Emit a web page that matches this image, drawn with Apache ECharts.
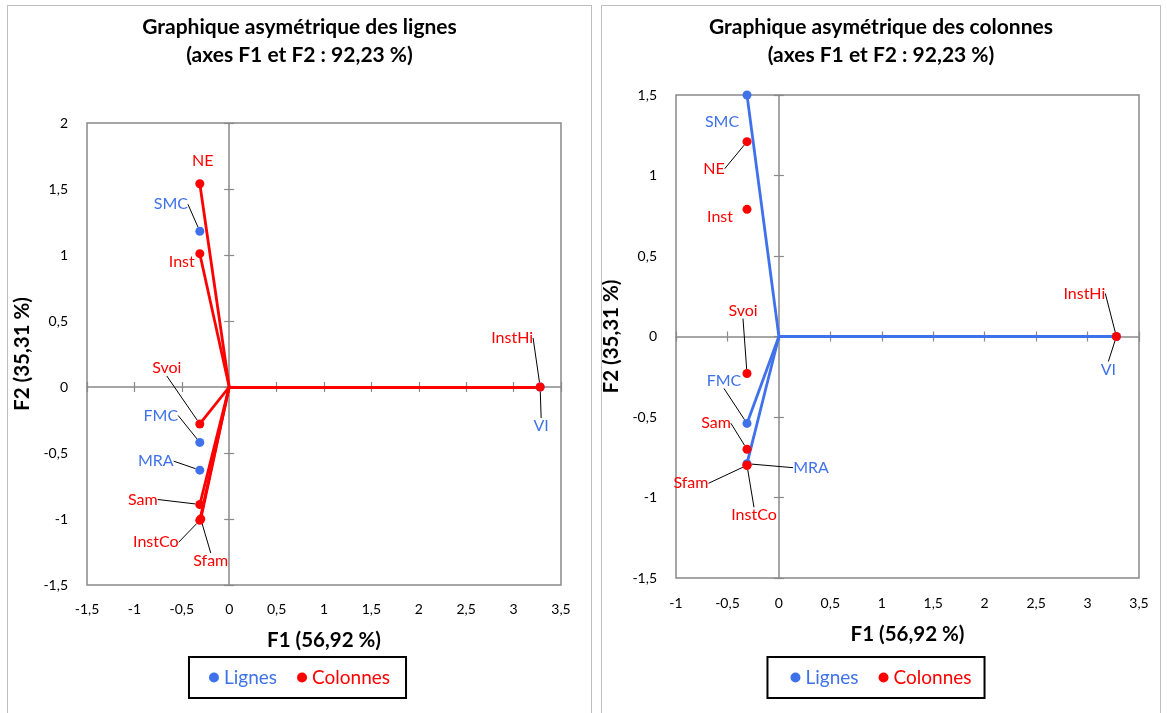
<!DOCTYPE html>
<html><head><meta charset="utf-8">
<script src="https://cdn.jsdelivr.net/npm/echarts@6/dist/echarts.min.js"></script>
<style>
body{margin:0;background:#fff;width:1167px;height:713px;overflow:hidden;position:relative;}
.panel{position:absolute;border:1px solid #bfbfbf;box-sizing:border-box;}
#p1{left:7px;top:5px;width:585px;height:712px;}
#p2{left:601px;top:5px;width:560px;height:712px;}
.chart{width:100%;height:100%;}
</style></head><body>
<div id="p1" class="panel"><div id="c1" class="chart"></div></div>
<div id="p2" class="panel"><div id="c2" class="chart"></div></div>
<script>
// ---------- DATA ----------
// Left chart: Graphique asymétrique des lignes
const L_rowNames = ['SMC', 'FMC', 'MRA', 'VI'];
const L_rowF1 = [-0.31, -0.31, -0.31, 3.28];
const L_rowF2 = [1.18, -0.42, -0.63, 0];
const L_colNames = ['NE', 'Inst', 'Svoi', 'Sam', 'InstCo', 'Sfam', 'InstHi'];
const L_colF1 = [-0.31, -0.31, -0.31, -0.31, -0.31, -0.30, 3.28];
const L_colF2 = [1.54, 1.01, -0.28, -0.89, -1.01, -1.00, 0];

// Right chart: Graphique asymétrique des colonnes
const R_rowNames = ['SMC', 'FMC', 'MRA', 'VI'];
const R_rowF1 = [-0.31, -0.31, -0.31, 3.28];
const R_rowF2 = [1.50, -0.54, -0.79, 0];
const R_colNames = ['NE', 'Inst', 'Svoi', 'Sam', 'InstCo', 'Sfam', 'InstHi'];
const R_colF1 = [-0.31, -0.31, -0.31, -0.31, -0.31, -0.31, 3.28];
const R_colF2 = [1.21, 0.79, -0.23, -0.70, -0.80, -0.80, 0];

const titleL = 'Graphique asymétrique des lignes\n(axes F1 et F2 : 92,23 %)';
const titleR = 'Graphique asymétrique des colonnes\n(axes F1 et F2 : 92,23 %)';
const xName = 'F1 (56,92 %)';
const yName = 'F2 (35,31 %)';
const legendNames = ['Lignes', 'Colonnes'];

// ---------- STYLE ----------
const BLUE = '#3f72ea';
const RED = '#ff0000';
const FONT = 'Lato';
// label offsets [dx, dy, leaderLine]
const L_offs = {
  NE: [3, -23, false], SMC: [-29, -27, true], Inst: [-18, 8, false], Svoi: [-33, -56, true],
  FMC: [-39, -27, true], MRA: [-44, -9, true], Sam: [-57, -5, true], InstCo: [-44, 22, true],
  Sfam: [10, 42, true], InstHi: [-28, -49, true], VI: [1, 39, true]
};
const R_offs = {
  SMC: [-25, 27, false], NE: [-33, 27, true], Inst: [-27, 8, false], Svoi: [-4, -63, true],
  FMC: [-23, -43, true], Sam: [-31, -26, true], MRA: [64, 4, true], Sfam: [-56, 18, true],
  InstCo: [7, 50, true], InstHi: [-32, -43, true], VI: [-8, 33, true]
};

const fmt = v => String(v).replace('.', ',');
const axisGray = '#898989';

function axes(dim, min, max, nameGap, labelMargin) {
  const base = { type: 'value', min: min, max: max, interval: 0.5, splitLine: { show: false } };
  const labelAxis = Object.assign({}, base, {
    position: dim === 'x' ? 'bottom' : 'left',
    axisLine: { show: false, onZero: false },
    axisTick: { show: false },
    axisLabel: { formatter: fmt, color: '#000', fontSize: 14, fontFamily: FONT, margin: labelMargin },
    name: dim === 'x' ? xName : yName,
    nameLocation: 'middle', nameGap: nameGap,
    nameTextStyle: { color: '#000', fontSize: 20.5, fontWeight: 'bold', fontFamily: FONT }
  });
  const lineAxis = Object.assign({}, base, {
    axisLine: { show: true, onZero: true, onZeroAxisIndex: 0, lineStyle: { color: axisGray, width: 1.5 } },
    axisTick: { show: true, inside: false, length: 5, lineStyle: { color: axisGray, width: 1.2 } },
    axisLabel: { show: false }
  });
  const tickAxis = Object.assign({}, base, {
    axisLine: { show: false, onZero: true, onZeroAxisIndex: 0 },
    axisTick: { show: true, inside: true, length: 5, lineStyle: { color: axisGray, width: 1.2 } },
    axisLabel: { show: false }
  });
  return [labelAxis, lineAxis, tickAxis];
}

function scatter(name, color, names, f1, f2, offs) {
  return {
    type: 'scatter', name: name, symbolSize: 9, z: 5,
    itemStyle: { color: color, opacity: 1 },
    data: names.map((n, i) => ({ name: n, value: [f1[i], f2[i]], labelLine: { show: offs[n][2] } })),
    label: {
      show: true, position: 'inside', formatter: '{b}', color: color, fontSize: 16,
      fontFamily: FONT, textBorderWidth: 0, align: 'center', verticalAlign: 'middle'
    },
    labelLine: { show: true, lineStyle: { color: '#000', width: 1 } },
    labelLayout: p => { const o = offs[names[p.dataIndex]]; return { dx: o[0], dy: o[1] }; },
    emphasis: { disabled: true }
  };
}

function rays(color, f1, f2) {
  return {
    type: 'lines', coordinateSystem: 'cartesian2d', name: 'rays', z: 3,
    lineStyle: { color: color, width: 2.8, opacity: 1 },
    data: f1.map((x, i) => ({ coords: [[0, 0], [x, f2[i]]] })),
    silent: true
  };
}

function legend(shift) {
  return {
    data: [
      { name: legendNames[0], textStyle: { color: BLUE } },
      { name: legendNames[1], textStyle: { color: RED } }
    ],
    left: 'center', top: 651, icon: 'circle', itemWidth: 10, itemHeight: 10, itemGap: 20,
    padding: [11, 16 - shift, 11, 20 + shift],
    borderColor: '#000', borderWidth: 2,
    textStyle: { fontSize: 19, fontFamily: FONT }
  };
}

function title(text, shift) {
  return {
    text: text, left: 'center', top: 7, padding: [0, 0, 0, shift],
    textStyle: { fontSize: 21, fontWeight: 'bold', fontFamily: FONT, color: '#000', lineHeight: 28 }
  };
}

const c1 = echarts.init(document.getElementById('c1'));
c1.setOption({
  animation: false,
  title: title(titleL, 0),
  legend: legend(0),
  grid: { left: 79, top: 117, width: 474, height: 462, show: true, borderColor: axisGray, borderWidth: 1.5,
          containLabel: false, outerBoundsMode: 'none' },
  xAxis: axes('x', -1.5, 3.5, 45, 17),
  yAxis: axes('y', -1.5, 2, 46, 19),
  series: [
    rays(RED, L_colF1, L_colF2),
    scatter(legendNames[0], BLUE, L_rowNames, L_rowF1, L_rowF2, L_offs),
    scatter(legendNames[1], RED, L_colNames, L_colF1, L_colF2, L_offs)
  ]
});

const c2 = echarts.init(document.getElementById('c2'));
c2.setOption({
  animation: false,
  title: title(titleR, 36),
  legend: legend(3),
  grid: { left: 74, top: 89, width: 463, height: 483, show: true, borderColor: axisGray, borderWidth: 1.5,
          containLabel: false, outerBoundsMode: 'none' },
  xAxis: axes('x', -1, 3.5, 46, 18),
  yAxis: axes('y', -1.5, 1.5, 46, 19),
  series: [
    rays(BLUE, R_rowF1, R_rowF2),
    scatter(legendNames[0], BLUE, R_rowNames, R_rowF1, R_rowF2, R_offs),
    scatter(legendNames[1], RED, R_colNames, R_colF1, R_colF2, R_offs)
  ]
});
</script>
</body></html>
